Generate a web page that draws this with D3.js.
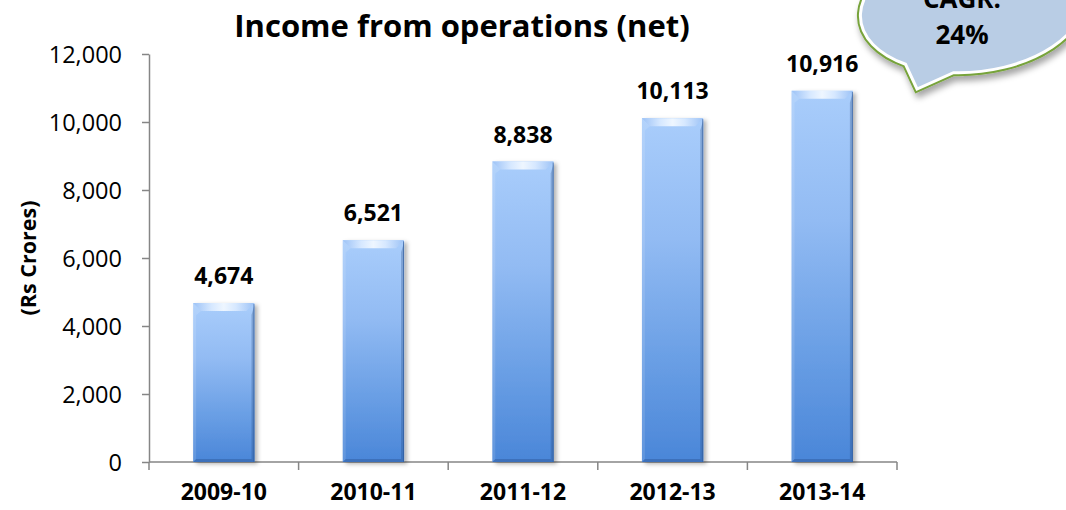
<!DOCTYPE html>
<html>
<head>
<meta charset="utf-8">
<script src="https://cdn.jsdelivr.net/npm/d3@7"></script>
<style>
  html, body { margin: 0; padding: 0; background: #fff; }
  svg { display: block; }
  text { font-family: "Open Sans", Lato, sans-serif; fill: #000; }
</style>
</head>
<body>
<svg id="chart" width="1066" height="510"></svg>
<script>
// Income from operations (net), Rs Crores
const years = ["2009-10", "2010-11", "2011-12", "2012-13", "2013-14"];
const income = [4674, 6521, 8838, 10113, 10916];
const yTicks = [0, 2000, 4000, 6000, 8000, 10000, 12000];
const cagrLines = ["CAGR:", "24%"];

const FONT = "'Open Sans', Lato, sans-serif";
const svg = d3.select("#chart");
const W = 1066, H = 510;
svg.append("rect").attr("width", W).attr("height", H).attr("fill", "#fff");

const plot = { left: 149, right: 897, top: 54, bottom: 462 };

const x = d3.scaleBand().domain(years).range([plot.left, plot.right]).padding(0);
const y = d3.scaleLinear().domain([0, 12000]).range([plot.bottom, plot.top]);
const barW = x.bandwidth() * 0.41;

const defs = svg.append("defs");

// vertical body gradient of the bars
const bodyGrad = defs.append("linearGradient").attr("id", "barBody")
  .attr("x1", 0).attr("y1", 0).attr("x2", 0).attr("y2", 1);
[["0%", "#a9cdfb"], ["35%", "#92bbf3"], ["70%", "#6a9fe5"], ["100%", "#4a86d8"]]
  .forEach(([o, c]) => bodyGrad.append("stop").attr("offset", o).attr("stop-color", c));

// highlight across the top bevel
const topGrad = defs.append("linearGradient").attr("id", "barTop")
  .attr("x1", 0).attr("y1", 0).attr("x2", 1).attr("y2", 0);
[["0%", "#9cc2f6"], ["30%", "#d6e8ff"], ["50%", "#eef6ff"], ["70%", "#d6e8ff"], ["100%", "#9cc2f6"]]
  .forEach(([o, c]) => topGrad.append("stop").attr("offset", o).attr("stop-color", c));

const barShadow = defs.append("filter").attr("id", "barShadow")
  .attr("x", "-20%").attr("y", "-5%").attr("width", "150%").attr("height", "115%");
barShadow.append("feDropShadow").attr("dx", 3).attr("dy", 2).attr("stdDeviation", 2.2)
  .attr("flood-color", "#000").attr("flood-opacity", 0.3);

const bubbleShadow = defs.append("filter").attr("id", "bubbleShadow")
  .attr("x", "-20%").attr("y", "-20%").attr("width", "150%").attr("height", "160%");
bubbleShadow.append("feDropShadow").attr("dx", 2).attr("dy", 5).attr("stdDeviation", 3)
  .attr("flood-color", "#000").attr("flood-opacity", 0.35);

// ---- axes ----
const axisColor = "#868686";

const yAxis = svg.append("g")
  .attr("transform", `translate(${plot.left},0)`)
  .call(d3.axisLeft(y).tickValues(yTicks).tickFormat(d3.format(","))
    .tickSize(7).tickSizeOuter(0).tickPadding(20));
yAxis.select(".domain").attr("stroke", axisColor).attr("stroke-width", 1.5);
yAxis.selectAll(".tick line").attr("stroke", axisColor).attr("stroke-width", 1.5);
yAxis.selectAll(".tick text")
  .style("font-family", FONT).style("font-size", "23.5px").attr("fill", "#000")
  .attr("dy", "0.36em");

// category boundary ticks along the x axis
const bounds = d3.range(years.length + 1).map(i => plot.left + i * x.step());
const xAxisG = svg.append("g");
xAxisG.append("line")
  .attr("x1", plot.left).attr("x2", plot.right)
  .attr("y1", y(0)).attr("y2", y(0))
  .attr("stroke", axisColor).attr("stroke-width", 1.5);
xAxisG.selectAll("line.bound").data(bounds).join("line").attr("class", "bound")
  .attr("x1", d => d).attr("x2", d => d)
  .attr("y1", y(0)).attr("y2", y(0) + 8)
  .attr("stroke", axisColor).attr("stroke-width", 1.5);

const xLabels = svg.append("g")
  .attr("transform", `translate(0,${y(0)})`)
  .call(d3.axisBottom(x).tickSize(0).tickPadding(22));
xLabels.select(".domain").remove();
xLabels.selectAll(".tick text")
  .style("font-family", FONT).style("font-size", "23px")
  .style("font-weight", "bold").attr("fill", "#000");

// ---- bars ----
const data = years.map((yr, i) => ({ yr, v: income[i] }));
const bars = svg.append("g").selectAll("g.bar").data(data).join("g").attr("class", "bar");

bars.each(function (d) {
  const g = d3.select(this);
  const x0 = x(d.yr) + (x.bandwidth() - barW) / 2;
  const y0 = y(d.v);
  const h = y(0) - y0;
  const w = barW;
  const b = 8;

  g.append("rect").attr("x", x0).attr("y", y0).attr("width", w).attr("height", h)
    .attr("fill", "url(#barBody)").attr("filter", "url(#barShadow)");

  // top bevel
  g.append("path")
    .attr("d", `M${x0},${y0}L${x0 + w},${y0}L${x0 + w - b},${y0 + b}L${x0 + b},${y0 + b}Z`)
    .attr("fill", "url(#barTop)");
  // left edge, slightly lighter
  g.append("path")
    .attr("d", `M${x0},${y0}L${x0 + b},${y0 + b}L${x0 + 3},${y0 + b + 4}L${x0 + 3},${y0 + h - 3}L${x0},${y0 + h}Z`)
    .attr("fill", "#ffffff").attr("opacity", 0.12);
  // right edge, darker
  g.append("path")
    .attr("d", `M${x0 + w},${y0 + 2}L${x0 + w - 3},${y0 + b + 4}L${x0 + w - 3},${y0 + h - 3}L${x0 + w},${y0 + h}Z`)
    .attr("fill", "#1d3f78").attr("opacity", 0.28);
  // bottom edge, darker
  g.append("path")
    .attr("d", `M${x0},${y0 + h}L${x0 + 3},${y0 + h - 3}L${x0 + w - 3},${y0 + h - 3}L${x0 + w},${y0 + h}Z`)
    .attr("fill", "#1d3f78").attr("opacity", 0.3);
  g.append("line")
    .attr("x1", x0 + w - 0.5).attr("x2", x0 + w - 0.5)
    .attr("y1", y0 + 1).attr("y2", y0 + h)
    .attr("stroke", "#2f5b9c").attr("stroke-width", 1).attr("opacity", 0.7);

  // value label
  g.append("text")
    .attr("x", x0 + w / 2).attr("y", y0 - 19)
    .attr("text-anchor", "middle")
    .style("font-size", "23px").style("font-weight", "bold")
    .text(d3.format(",")(d.v));
});

// ---- titles ----
svg.append("text")
  .attr("x", 462).attr("y", 37)
  .attr("text-anchor", "middle")
  .style("font-size", "31px").style("font-weight", "bold")
  .text("Income from operations (net)");

svg.append("text")
  .attr("transform", "translate(36,258) rotate(-90)")
  .attr("text-anchor", "middle")
  .style("font-size", "21.5px").style("font-weight", "bold")
  .text("(Rs Crores)");

// ---- CAGR callout bubble ----
const bub = { cx: 972, cy: 8, rx: 112, ry: 64, rot: -6 };
const rad = Math.PI / 180;
function ellPt(tDeg) {
  const t = tDeg * rad, r = bub.rot * rad;
  const ex = bub.rx * Math.cos(t), ey = bub.ry * Math.sin(t);
  return [bub.cx + ex * Math.cos(r) - ey * Math.sin(r), bub.cy + ex * Math.sin(r) + ey * Math.cos(r)];
}
const p1 = ellPt(103), p2 = ellPt(130), tip = [917, 89];
const bubblePath = `M${p1[0]},${p1[1]} A${bub.rx},${bub.ry} ${bub.rot} 1 0 ${p2[0]},${p2[1]} L${tip[0]},${tip[1]} Z`;

const callout = svg.append("g");
callout.append("path").attr("d", bubblePath)
  .attr("fill", "#b9cde5").attr("stroke", "#77a33b").attr("stroke-width", 7)
  .attr("stroke-linejoin", "miter").attr("filter", "url(#bubbleShadow)");
callout.append("path").attr("d", bubblePath)
  .attr("fill", "#b9cde5").attr("stroke", "#ffffff").attr("stroke-width", 3)
  .attr("stroke-linejoin", "miter");
callout.selectAll("text").data(cagrLines).join("text")
  .attr("x", 962).attr("y", (d, i) => 8 + i * 36)
  .attr("text-anchor", "middle")
  .style("font-size", "26px").style("font-weight", "bold")
  .text(d => d);
</script>
</body>
</html>
